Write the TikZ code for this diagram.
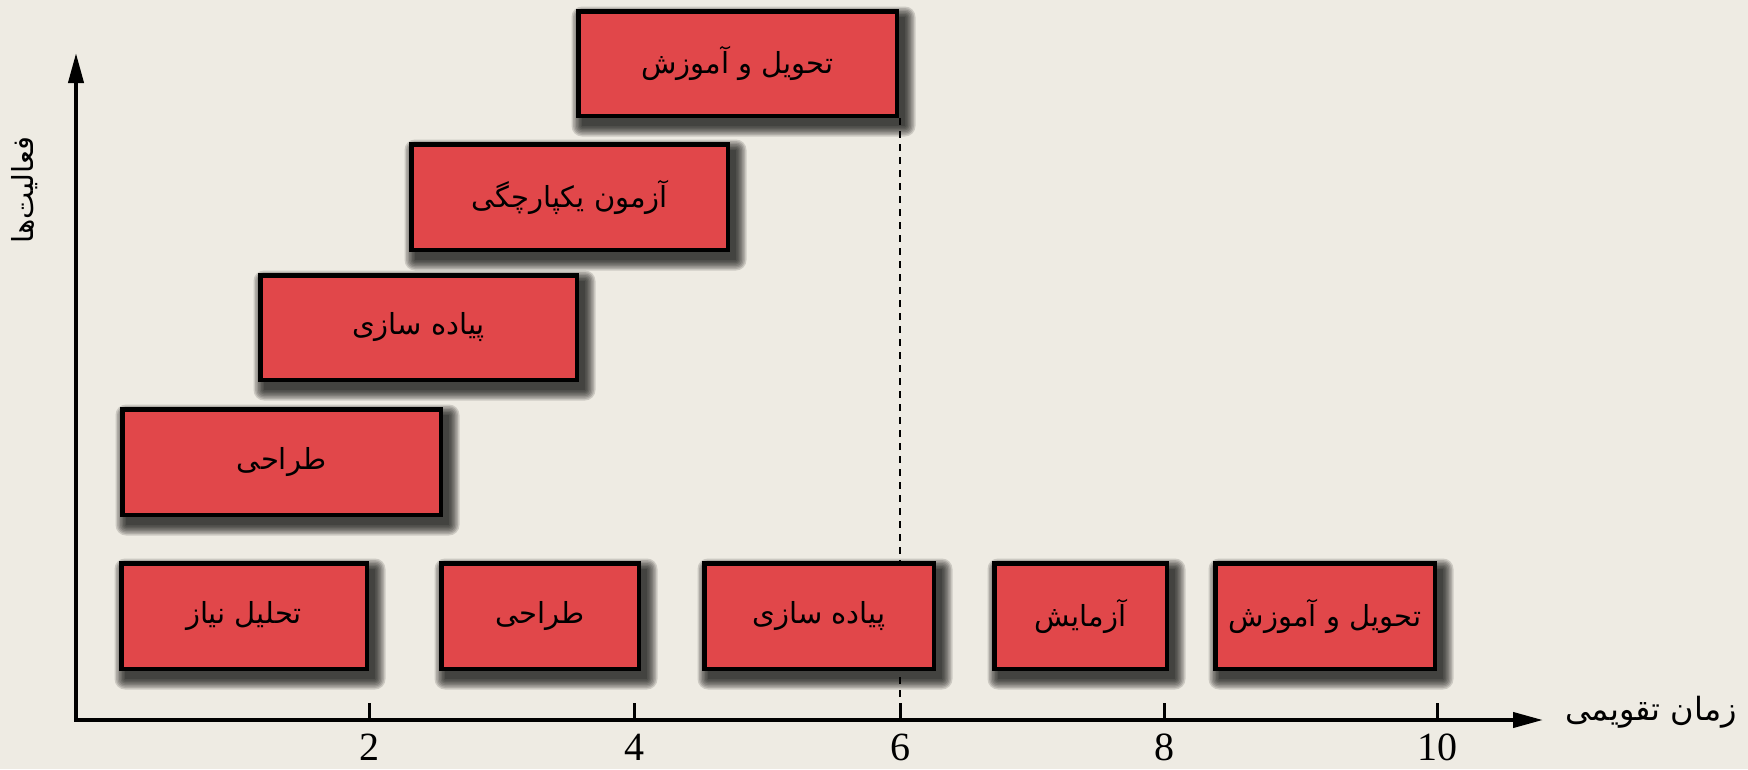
\documentclass[tikz,border=0pt]{standalone}
\usepackage{fontspec}
\setmainfont{Liberation Serif}
\newfontfamily\farsi[Script=Arabic]{DejaVu Sans}
\TeXXeTstate=1
\usetikzlibrary{arrows.meta,calc}

\definecolor{paper}{RGB}{238,235,227}
\definecolor{boxred}{RGB}{225,71,74}

\pgfdeclarelayer{backdrop}
\pgfdeclarelayer{shade}
\pgfdeclarelayer{guides}
\pgfsetlayers{backdrop,shade,guides,main}

\tikzset{
  actbox/.style={draw=black, line width=4.5pt, fill=boxred, rectangle, inner sep=0pt,
    font=\farsi\fontsize{29}{34}\selectfont},
  axisline/.style={line width=4pt},
  tickmark/.style={line width=3pt},
  guide/.style={line width=2.5pt, dash pattern=on 7pt off 6pt},
  ticklabel/.style={font=\fontsize{40}{44}\selectfont, inner sep=0pt},
  axislabel/.style={font=\farsi\fontsize{29}{34}\selectfont, inner sep=0pt},
  softshade/.style={black, opacity=0.14},
}

% activity box: name, left, top, right, bottom, label (pixel-like units, y downwards)
\newcommand\activity[6]{%
  \node[actbox, minimum width={(#4-#2)*1pt-4.5pt}, minimum height={(#5-#3)*1pt-4.5pt}]
    (#1) at ({(#2+#4)/2},{(#3+#5)/2}) {#6};
  \begin{pgfonlayer}{shade}
    \foreach \s in {10.5,9,...,0} {
      \fill[softshade, rounded corners=\s pt]
        ($(#1.north west)+(6-\s,8-\s)$) rectangle ($(#1.south east)+(6+\s,8+\s)$);
    }
  \end{pgfonlayer}
}

\begin{document}
\begin{tikzpicture}[x=1pt, y=-1pt]
  \useasboundingbox (0,0) rectangle (1748,769);
  \begin{pgfonlayer}{backdrop}
    \fill[paper] (0,0) rectangle (1748,769);
  \end{pgfonlayer}

  % stacked (overlapping) activities
  \activity{s1}{120}{407}{443}{517}{\beginR طراحی\endR}
  \activity{s2}{258}{273}{579}{382}{\beginR پیاده سازی\endR}
  \activity{s3}{409}{142}{730}{252}{\beginR آزمون یکپارچگی\endR}
  \activity{s4}{576}{9}{899}{118}{\beginR تحویل و آموزش\endR}

  % sequential activities
  \activity{b1}{119}{561}{369}{671}{\beginR تحلیل نیاز\endR}
  \activity{b2}{439}{561}{641}{671}{\beginR طراحی\endR}
  \activity{b3}{702}{561}{936}{671}{\beginR پیاده سازی\endR}
  \activity{b4}{992}{561}{1169}{671}{\beginR آزمایش\endR}
  \activity{b5}{1213}{561}{1437}{671}{\beginR تحویل و آموزش\endR}

  % axes
  \coordinate (origin) at (76,720);
  \coordinate (ytop) at (76,53);
  \coordinate (xend) at (1543,720);
  \draw[axisline, {Triangle[length=30pt,width=15pt]}-{Triangle[length=30pt,width=15pt]}]
    (ytop) -- (origin) -- (xend);

  % ticks and their labels
  \foreach \x/\t in {369/2, 634/4, 900/6, 1164/8, 1437/10} {
    \coordinate (tk\t) at (\x,720);
    \draw[tickmark] (tk\t) -- ++(0,-17);
    \node[ticklabel] (lbl\t) at (\x,747) {\t};
  }

  % end of the overlapping schedule, running behind the boxes
  \begin{pgfonlayer}{guides}
    \draw[guide] (s4.south east -| tk6) -- (tk6);
  \end{pgfonlayer}

  % axis titles
  \node[axislabel, font=\farsi\fontsize{32}{36}\selectfont] (xlab) at (1651,712) {\beginR زمان تقویمی\endR};
  \node[axislabel, rotate=90] (ylab) at (25,190) {\beginR فعالیت‌ها\endR};
\end{tikzpicture}
\end{document}
